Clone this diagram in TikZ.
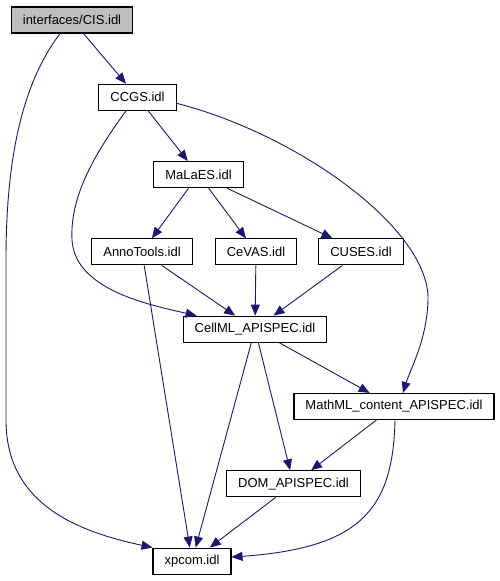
\documentclass[tikz,border=0pt]{standalone}
\usepackage{fontspec}
\setmainfont{Liberation Sans}
\usetikzlibrary{arrows.meta}
\definecolor{edgeblue}{HTML}{191970}
\definecolor{rootgray}{HTML}{BFBFBF}

\begin{document}
\begin{tikzpicture}[x=1pt, y=1pt,
      file/.style={rectangle, draw=black, line width=1.1pt, fill=white,
        minimum height=26pt, inner xsep=11.5pt, inner ysep=0pt,
        font=\fontsize{13}{15}\selectfont},
      arr/.style={-{Triangle[length=11pt,width=9pt]}, line width=0.9pt, color=edgeblue}
    ]
      \useasboundingbox (0,0) rectangle (500,-581);
      \node[file, fill=rootgray] (cis)    at (72,-20)    {interfaces/CIS.idl};
      \node[file]                (ccgs)   at (137.5,-97.3) {CCGS.idl};
      \node[file]                (malaes) at (198.5,-174.6) {MaLaES.idl};
      \node[file]                (anno)   at (142,-251.9)  {AnnoTools.idl};
      \node[file]                (cevas)  at (256,-251.9)  {CeVAS.idl};
      \node[file]                (cuses)  at (361,-251.9)  {CUSES.idl};
      \node[file]                (cellml) at (255,-329.2)  {CellML\_APISPEC.idl};
      \node[file]                (mathml) at (394,-406.5)  {MathML\_content\_APISPEC.idl};
      \node[file]                (dom)    at (293.5,-483.8) {DOM\_APISPEC.idl};
      \node[file]                (xpcom)  at (192,-561.1)  {xpcom.idl};
      \draw[arr] (cis)--(ccgs); \draw[arr] (ccgs)--(malaes);
      \draw[arr] (malaes)--(anno); \draw[arr] (malaes)--(cevas); \draw[arr] (malaes)--(cuses);
      \draw[arr] (anno)--(cellml); \draw[arr] (cevas)--(cellml); \draw[arr] (cuses)--(cellml);
      \draw[arr] (anno)--(xpcom);
      \draw[arr] (cellml)--(mathml); \draw[arr] (cellml)--(dom); \draw[arr] (cellml)--(xpcom);
      \draw[arr] (mathml)--(dom); \draw[arr] (dom)--(xpcom);
      % curved edges
      \draw[arr] ([xshift=-12pt]cis.south) .. controls (25,-80) and (6,-150) .. (6,-260)
        -- (6,-420) .. controls (6,-500) and (70,-530) .. (xpcom.north west);
      \draw[arr] ([xshift=-11.5pt]ccgs.south) .. controls (90,-160) and (70,-200) .. (72,-240)
        .. controls (75,-290) and (150,-305) .. ([xshift=14pt]cellml.north west);
      \draw[arr] ([yshift=-6pt]ccgs.east) .. controls (300,-135) and (430,-230) .. (428,-300)
        .. controls (427,-340) and (410,-370) .. ([xshift=9pt]mathml.north);
      \draw[arr] ([xshift=1pt]mathml.south) .. controls (393,-510) and (360,-548) .. ([yshift=4pt]xpcom.east);
    \end{tikzpicture}
\end{document}
